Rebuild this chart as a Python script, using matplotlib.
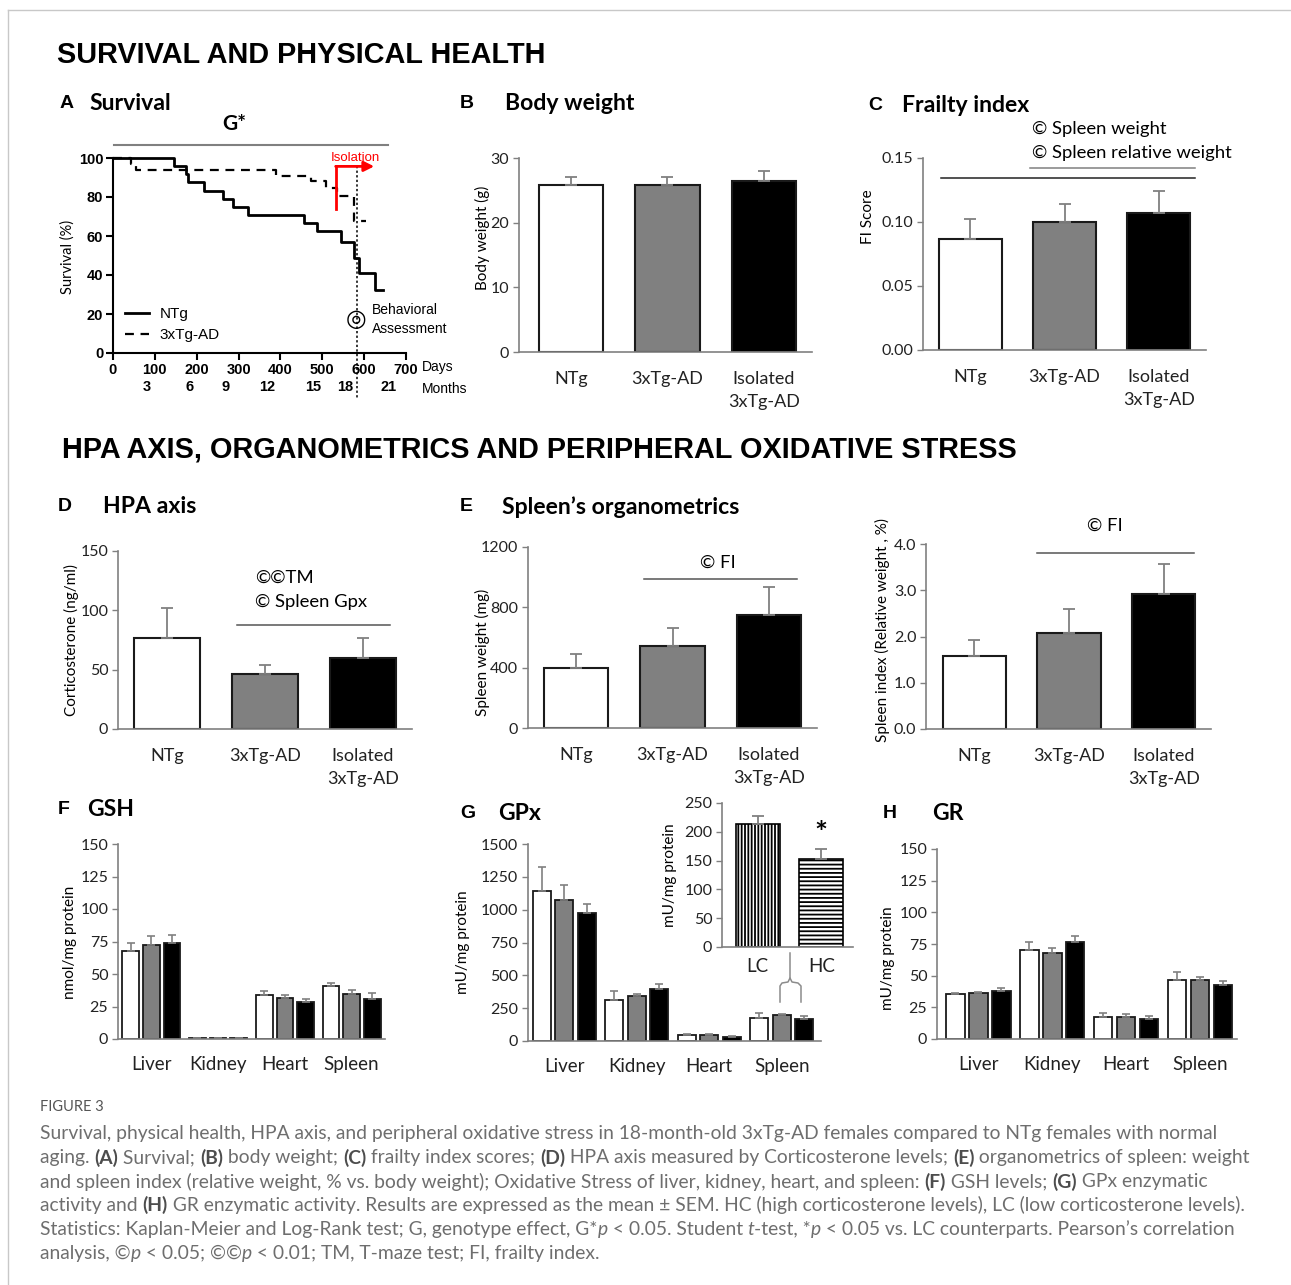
import re
import matplotlib
matplotlib.use("Agg")
import matplotlib.pyplot as plt
from matplotlib.lines import Line2D
import numpy as np

# ---- data -------------------------------------------------------------
groups = ["NTg", "3xTg-AD", "Isolated\n3xTg-AD"]
organs = ["Liver", "Kidney", "Heart", "Spleen"]

# Kaplan-Meier survival (days, % alive)
ntg_days = [0, 145, 174, 178, 217, 262, 286, 323, 457, 487, 545, 575, 588, 625, 646]
ntg_surv = [100, 95.8, 91.7, 87.5, 83.3, 79.2, 75.0, 70.8, 66.7, 62.5, 56.9, 48.7, 41.0, 32.5, 32.5]
tg_days = [0, 44, 54, 389, 473, 509, 536, 575, 605]
tg_surv = [100, 97.0, 94.0, 90.9, 88.0, 84.6, 80.5, 67.7, 67.7]
day_ticks = list(range(0, 701, 100))
month_labels = ["3", "6", "9", "12", "15", "18", "21"]

body_weight = [25.8, 25.9, 26.4]
body_weight_sem = [1.2, 1.2, 1.6]
frailty = [0.087, 0.100, 0.107]
frailty_sem = [0.015, 0.014, 0.017]
corticosterone = [77, 46, 60]
corticosterone_sem = [25, 8, 17]
spleen_weight = [400, 543, 752]
spleen_weight_sem = [90, 123, 185]
spleen_index = [1.58, 2.08, 2.91]
spleen_index_sem = [0.34, 0.51, 0.66]

# oxidative stress, one row per group (NTg, 3xTg-AD, Isolated), columns = organs
gsh = [[67.8, 0.8, 33.8, 40.4], [72.2, 0.5, 31.7, 34.6], [73.5, 0.5, 28.2, 30.5]]
gsh_sem = [[5.9, 0, 2.8, 2.3], [7.4, 0, 2.3, 3.0], [6.6, 0, 2.3, 4.8]]
gpx = [[1144, 315, 46, 175], [1070, 343, 48, 201], [971, 397, 33, 165]]
gpx_sem = [[183, 69, 7, 36], [117, 18, 5, 7], [69, 40, 5, 23]]
gr = [[35.3, 70.0, 17.6, 46.6], [36.6, 68.2, 17.6, 46.6], [37.9, 76.8, 16.1, 42.6]]
gr_sem = [[1.3, 6.3, 2.7, 6.6], [0.8, 3.4, 2.4, 2.6], [2.1, 4.5, 2.1, 3.2]]

cort_levels = ["LC", "HC"]
spleen_gpx_cort = [213, 152]
spleen_gpx_cort_sem = [14, 19]

# ---- layout helpers ---------------------------------------------------
W, H = 1291, 1285
fig = plt.figure(figsize=(W / 100, H / 100), dpi=100)
ARIAL = "Liberation Sans"
CAL = ["Lato", "DejaVu Sans"]
FILLS = ["white", "#808080", "black"]
EDGE = "#1a1a1a"
AXC = "#808080"
NOTE = 13.3


def box(x0, y0, x1, y1):
    return fig.add_axes([x0 / W, 1 - y1 / H, (x1 - x0) / W, (y1 - y0) / H])


def ftext(x, y, s, **kw):
    return fig.text(x / W, 1 - y / H, s, **kw)


def panel_title(lx, tx, y, letter, title):
    ftext(lx, y, letter, fontsize=14, weight="bold", family=ARIAL, va="center")
    ftext(tx, y, title, fontsize=16.6, weight="bold", family=CAL, va="center")


def ylab(x, y, s, size=11):
    ftext(x, y, s, rotation=90, ha="center", va="center", fontsize=size, family=CAL)


def style_axes(ax, ymax, yticks, fmt="{:g}", cat_pad=14, cat_size=13):
    for s in ["top", "right"]:
        ax.spines[s].set_visible(False)
    for s in ["left", "bottom"]:
        ax.spines[s].set_color(AXC)
        ax.spines[s].set_linewidth(1.2)
    ax.set_ylim(0, ymax)
    ax.set_yticks(yticks)
    ax.set_yticklabels([fmt.format(v) for v in yticks])
    ax.tick_params(axis="y", length=4, width=1, color=AXC, labelsize=11.5,
                   labelcolor="#222", pad=3, labelfontfamily="Lato")
    ax.tick_params(axis="x", length=0, pad=cat_pad, labelsize=cat_size,
                   labelcolor="#222", labelfontfamily="Lato")


def three_bars(ax, means, sems):
    x = np.arange(3)
    ax.bar(x, means, width=0.67, color=FILLS, edgecolor=EDGE, linewidth=1.5, zorder=2)
    ax.errorbar(x, means, yerr=[np.zeros(3), sems], fmt="none", ecolor=AXC,
                elinewidth=1.3, capsize=4, capthick=1.3, zorder=3)
    ax.set_xticks(x)
    ax.set_xticklabels(groups, linespacing=1.5)


def organ_bars(ax, rows, sems, width=0.25, step=0.31):
    x = np.arange(len(organs))
    for i, (m, e) in enumerate(zip(rows, sems)):
        xi = x + (i - 1) * step
        ax.bar(xi, m, width=width, color=FILLS[i], edgecolor=EDGE, linewidth=1.3, zorder=2)
        ax.errorbar(xi, m, yerr=[np.zeros(len(m)), e], fmt="none", ecolor=AXC,
                    elinewidth=1.2, capsize=3, capthick=1.2, zorder=3)
    ax.set_xticks(x)
    ax.set_xticklabels(organs)


def hline(ax, y, x0, x1, color="#555"):
    ax.plot([x0, x1], [y, y], color=color, lw=1.1, clip_on=False)


# ---- frame and section headers ---------------------------------------
fig.add_artist(Line2D([8 / W, 1], [1 - 10 / H, 1 - 10 / H], color="#c8c8c8", lw=1))
fig.add_artist(Line2D([8 / W, 8 / W], [0, 1 - 10 / H], color="#c8c8c8", lw=1))
ftext(57, 55, "SURVIVAL AND PHYSICAL HEALTH", fontsize=20.8, weight="bold",
      family=ARIAL, va="center")
ftext(62, 449, "HPA AXIS, ORGANOMETRICS AND PERIPHERAL OXIDATIVE STRESS",
      fontsize=20.8, weight="bold", family=ARIAL, va="center")

# ---- A: survival ------------------------------------------------------
panel_title(60, 89, 103, "A", "Survival")
ax = box(113, 158, 406, 353)
ax.step(ntg_days, ntg_surv, where="post", color="black", lw=2, clip_on=False,
        label="NTg")
ax.step(tg_days, tg_surv, where="post", color="black", lw=1.6,
        linestyle=(0, (4, 3)), clip_on=False, label="3xTg-AD")
ax.set_xlim(0, 700)
ax.set_ylim(0, 100)
ax.set_xticks(day_ticks)
ax.set_yticks(range(0, 101, 20))
for s in ["top", "right"]:
    ax.spines[s].set_visible(False)
for s in ["left", "bottom"]:
    ax.spines[s].set_linewidth(1.5)
ax.tick_params(direction="out", length=5, width=1.5, labelsize=10.5, pad=2)
for t in ax.get_xticklabels() + ax.get_yticklabels():
    t.set_fontweight("bold")
    t.set_fontfamily(ARIAL)
ylab(68, 257, "Survival (%)", size=10.5)
ftext(422, 367, "Days", fontsize=10, family=ARIAL, va="center")
ftext(422, 389, "Months", fontsize=10, family=ARIAL, va="center")
month_pos = [80, 182, 269, 369, 479, 555, 658]
for m, d in zip(month_labels, month_pos):
    ax.text(d, -0.175, m, transform=ax.get_xaxis_transform(), ha="center",
            va="center", fontsize=10.5, weight="bold", family=ARIAL)
ax.legend(loc="lower left", bbox_to_anchor=(0.04, 0.055), frameon=False,
          borderaxespad=0, borderpad=0, handlelength=1.6, handletextpad=0.7,
          labelspacing=0.45, prop={"family": ARIAL, "size": 11})
# isolation arrow and behavioural assessment marker
ax.plot([533, 533], [74, 95.7], color="red", lw=2)
ax.annotate("", xy=(624, 95.7), xytext=(532, 95.7),
            arrowprops=dict(arrowstyle="-|>,head_length=0.6,head_width=0.3",
                            color="red", lw=2, shrinkA=0, shrinkB=0))
ax.text(578, 100, "Isolation", color="red", ha="center", va="center",
        fontsize=9.5, family=ARIAL)
ax.plot([584, 584], [96, -23], color="black", lw=1.1, linestyle=(0, (1.5, 1.5)),
        clip_on=False)
ax.text(581, 17.6, "\u25CE", ha="center", va="center", fontsize=17,
        family="DejaVu Sans")
ax.text(618, 21.9, "Behavioral", ha="left", va="center", fontsize=10, family=ARIAL)
ax.text(618, 12.5, "Assessment", ha="left", va="center", fontsize=10, family=ARIAL)
ax.plot([2, 658], [106.5, 106.5], color="#808080", lw=1.5, clip_on=False)
ax.text(291, 117.5, "G*", ha="center", va="center", fontsize=15,
        weight="bold", family=CAL, clip_on=False)

# ---- B: body weight ---------------------------------------------------
panel_title(460, 505, 103, "B", "Body weight")
ax = box(519, 158, 812, 352)
three_bars(ax, body_weight, body_weight_sem)
ax.set_xlim(-0.54, 2.5)
style_axes(ax, 30, [0, 10, 20, 30])
ylab(482, 238, "Body weight (g)")

# ---- C: frailty index -------------------------------------------------
panel_title(868, 902, 106, "C", "Frailty index")
ax = box(923, 158, 1206, 350)
three_bars(ax, frailty, frailty_sem)
ax.set_xlim(-0.5, 2.5)
style_axes(ax, 0.15, [0, 0.05, 0.10, 0.15], fmt="{:.2f}")
ylab(868, 217, "FI Score")
hline(ax, 0.1347, -0.305, 2.381, color="#222")
hline(ax, 0.1422, 0.631, 2.381, color="#808080")
ftext(1032, 129, "\u00A9 Spleen weight", fontsize=NOTE, family=CAL, va="center")
ftext(1032, 153, "\u00A9 Spleen relative weight", fontsize=NOTE, family=CAL,
      va="center")

# ---- D: HPA axis ------------------------------------------------------
panel_title(58, 103, 507, "D", "HPA axis")
ax = box(118, 551, 412, 729)
three_bars(ax, corticosterone, corticosterone_sem)
ax.set_xlim(-0.5, 2.5)
style_axes(ax, 150, [0, 50, 100, 150])
ylab(71, 640, "Corticosterone (ng/ml)")
hline(ax, 87.6, 0.714, 2.279)
ftext(255, 578, "\u00A9\u00A9TM", fontsize=NOTE, family=CAL, va="center")
ftext(255, 602, "\u00A9 Spleen Gpx", fontsize=NOTE, family=CAL, va="center")

# ---- E: spleen weight -------------------------------------------------
panel_title(460, 502, 507, "E", "Spleen\u2019s organometrics")
ax = box(528, 547, 817, 728)
three_bars(ax, spleen_weight, spleen_weight_sem)
ax.set_xlim(-0.5, 2.5)
style_axes(ax, 1200, [0, 400, 800, 1200])
ylab(482, 652, "Spleen weight (mg)")
hline(ax, 986, 0.699, 2.29)
ftext(718, 563, "\u00A9 FI", fontsize=NOTE, family=CAL, ha="center", va="center")

# ---- spleen index -----------------------------------------------------
ax = box(926, 544, 1211, 729)
three_bars(ax, spleen_index, spleen_index_sem)
ax.set_xlim(-0.51, 2.5)
style_axes(ax, 4, [0, 1, 2, 3, 4], fmt="{:.1f}")
ylab(882, 630, "Spleen index (Relative weight , %)")
hline(ax, 3.805, 0.662, 2.316)
ftext(1105, 526, "\u00A9 FI", fontsize=NOTE, family=CAL, ha="center", va="center")

# ---- F: GSH -----------------------------------------------------------
panel_title(58, 87, 810, "F", "GSH")
ax = box(118, 844, 385, 1039)
organ_bars(ax, gsh, gsh_sem)
ax.set_xlim(-0.5, 3.5)
style_axes(ax, 150, range(0, 151, 25), cat_pad=12, cat_size=13.5)
ylab(70, 942, "nmol/mg protein")

# ---- G: GPx -----------------------------------------------------------
panel_title(460, 498, 813, "G", "GPx")
ax = box(528, 844, 821, 1041)
organ_bars(ax, gpx, gpx_sem)
ax.set_xlim(-0.5, 3.54)
style_axes(ax, 1500, range(0, 1501, 250), cat_pad=12, cat_size=13.5)
ylab(463, 942, "mU/mg protein")

plt.rcParams["hatch.linewidth"] = 1.3
ax = box(722, 803, 853, 947)
ax.bar([0, 1], spleen_gpx_cort, width=0.69, color="white", edgecolor="black",
       linewidth=1.2, hatch=["|||||", "----"], zorder=2)
ax.errorbar([0, 1], spleen_gpx_cort, yerr=[[0, 0], spleen_gpx_cort_sem],
            fmt="none", ecolor=AXC, elinewidth=1.3, capsize=4, capthick=1.3, zorder=3)
ax.set_xlim(-0.56, 1.5)
ax.set_xticks([0, 1])
ax.set_xticklabels(cort_levels)
style_axes(ax, 250, range(0, 251, 50), cat_pad=8, cat_size=13.5)
ax.text(1, 196, "*", ha="center", va="center", fontsize=22, weight="bold",
        family=CAL)
ylab(670, 875, "mU/mg protein")
brace = [(780, 1002), (780, 986), (782, 983), (788, 982), (790, 978),
         (792, 982), (798, 983), (801, 986), (801, 1002)]
fig.add_artist(Line2D([p[0] / W for p in brace], [1 - p[1] / H for p in brace],
                      color="#8c8c8c", lw=1.1))
fig.add_artist(Line2D([790 / W, 790 / W], [1 - 953 / H, 1 - 978 / H],
                      color="#8c8c8c", lw=1.1))

# ---- H: GR ------------------------------------------------------------
panel_title(883, 932, 813, "H", "GR")
ax = box(937, 849, 1237, 1039)
organ_bars(ax, gr, gr_sem)
ax.set_xlim(-0.56, 3.5)
style_axes(ax, 150, range(0, 151, 25), cat_pad=12, cat_size=13.5)
ylab(888, 958, "mU/mg protein")

# ---- caption ----------------------------------------------------------
caption = [
    "Survival, physical health, HPA axis, and peripheral oxidative stress in 18-month-old 3xTg-AD females compared to NTg females with normal",
    "aging. **(A)** Survival; **(B)** body weight; **(C)** frailty index scores; **(D)** HPA axis measured by Corticosterone levels; **(E)** organometrics of spleen: weight",
    "and spleen index (relative weight, % vs. body weight); Oxidative Stress of liver, kidney, heart, and spleen: **(F)** GSH levels; **(G)** GPx enzymatic",
    "activity and **(H)** GR enzymatic activity. Results are expressed as the mean \u00B1 SEM. HC (high corticosterone levels), LC (low corticosterone levels).",
    "Statistics: Kaplan-Meier and Log-Rank test; G, genotype effect, G*__p__ < 0.05. Student __t__-test, *__p__ < 0.05 vs. LC counterparts. Pearson\u2019s correlation",
    "analysis, \u00A9__p__ < 0.05; \u00A9\u00A9__p__ < 0.01; TM, T-maze test; FI, frailty index.",
]
ftext(40, 1107, "FIGURE 3", fontsize=10.5, family=CAL, color="#555", va="center")

renderer = fig.canvas.get_renderer()
# size the caption so the first line fills the text block width
probe = ftext(40, 1134, caption[0], fontsize=13, family=CAL)
cap_size = 13 * 1178 / probe.get_window_extent(renderer=renderer).width
probe.remove()

for i, line in enumerate(caption):
    x = 40
    y = 1134 + i * 23.8
    bold = italic = False
    for tok in re.split(r"(\*\*|__)", line):
        if tok == "**":
            bold = not bold
            continue
        if tok == "__":
            italic = not italic
            continue
        if not tok:
            continue
        t = ftext(x, y, tok, fontsize=cap_size, family=CAL, va="center",
                  color="#4d4d4d" if bold else "#6e6e6e",
                  weight="bold" if bold else "normal",
                  style="italic" if italic else "normal")
        x += t.get_window_extent(renderer=renderer).width

fig.savefig("out.png", dpi=100)
